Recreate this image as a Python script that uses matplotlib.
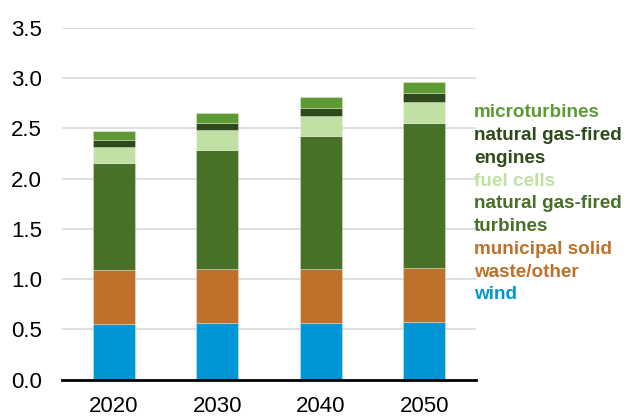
import matplotlib
matplotlib.use("Agg")
import matplotlib.pyplot as plt
import numpy as np

plt.rcParams['font.family'] = ['Liberation Sans', 'DejaVu Sans']

years = ["2020", "2030", "2040", "2050"]
wind = [0.55, 0.56, 0.56, 0.57]
msw = [0.54, 0.54, 0.54, 0.54]
ng_turbines = [1.07, 1.19, 1.32, 1.44]
fuel_cells = [0.16, 0.19, 0.20, 0.21]
ng_engines = [0.06, 0.07, 0.08, 0.09]
microturbines = [0.09, 0.10, 0.11, 0.11]

series = [
    ("wind", wind, "#0096D6"),
    ("municipal solid\nwaste/other", msw, "#BD712A"),
    ("natural gas-fired\nturbines", ng_turbines, "#487027"),
    ("fuel cells", fuel_cells, "#C0E0A4"),
    ("natural gas-fired\nengines", ng_engines, "#2E4A1A"),
    ("microturbines", microturbines, "#5E9A34"),
]

fig = plt.figure(figsize=(6.37, 4.2), dpi=100)
ax = fig.add_axes([62/637, 1-379.5/420, (476-62)/637, (379.5-28)/420])

x = np.arange(len(years))
bottom = np.zeros(len(years))
for name, vals, col in series:
    ax.bar(x, vals, width=0.405, bottom=bottom, color=col,
           edgecolor=(1, 1, 1, 0.35), linewidth=0.6, zorder=3)
    bottom += np.array(vals)

ax.set_xlim(-0.5, 3.5)
ax.set_ylim(0, 3.5)
ax.set_yticks(np.arange(0, 3.51, 0.5))
ax.set_yticklabels([f"{v:.1f}" for v in np.arange(0, 3.51, 0.5)])
ax.set_xticks(x)
ax.set_xticklabels(years)
ax.tick_params(axis='both', length=0, labelsize=16, colors='#000000')
ax.tick_params(axis='y', pad=14.5)
ax.tick_params(axis='x', pad=12)
ax.grid(axis='y', color='#D9D9D9', linewidth=1.2, zorder=0)
for s in ['top', 'right', 'left']:
    ax.spines[s].set_visible(False)
ax.spines['bottom'].set_linewidth(2)
ax.spines['bottom'].set_color('black')
ax.spines['bottom'].set_zorder(4)

legend_lines = [
    ("microturbines", "#5E9A34"),
    ("natural gas-fired", "#2E4A1A"),
    ("engines", "#2E4A1A"),
    ("fuel cells", "#C0E0A4"),
    ("natural gas-fired", "#487027"),
    ("turbines", "#487027"),
    ("municipal solid", "#BD712A"),
    ("waste/other", "#BD712A"),
    ("wind", "#0096D6"),
]
y0 = 117.3
for i, (txt, col) in enumerate(legend_lines):
    yb = y0 + i * 22.75
    fig.text(474/637, 1 - yb/420, txt, color=col, fontsize=13.6,
             fontweight='bold', va='baseline', ha='left')

fig.savefig("out.png", dpi=100)
